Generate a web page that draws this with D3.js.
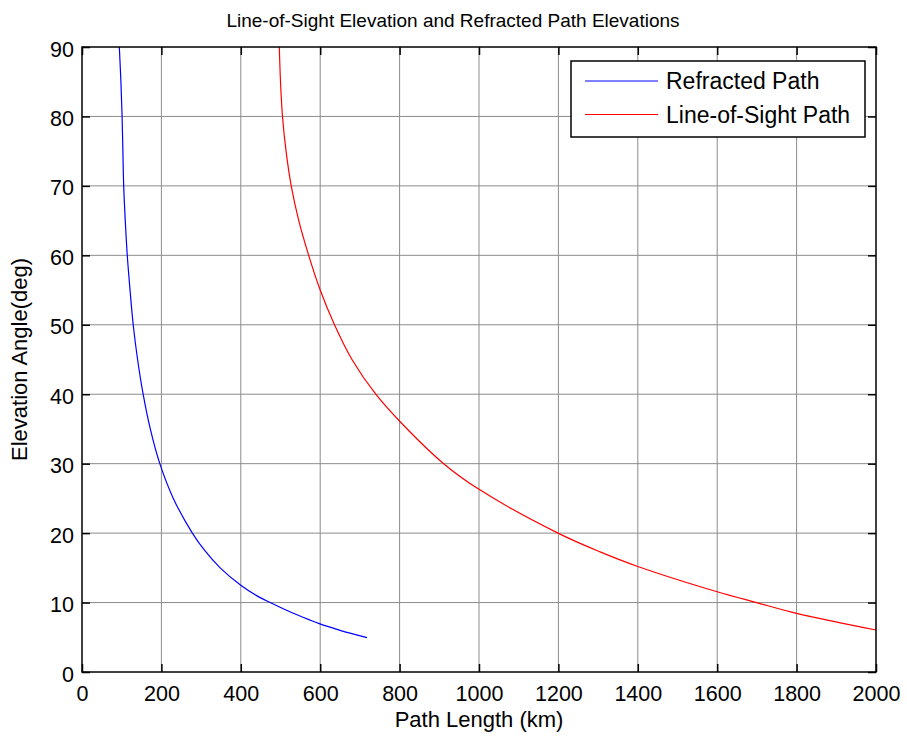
<!DOCTYPE html>
<html>
<head>
<meta charset="utf-8">
<script src="https://cdn.jsdelivr.net/npm/d3@7"></script>
<style>
  body { margin: 0; background: #fff; }
  svg text { font-family: "Liberation Sans", Arial, sans-serif; fill: #000; }
</style>
</head>
<body>
<svg id="chart" width="907" height="740"></svg>
<script>
// *********** DATA ***************** //
var refractedElev = [90, 85, 80, 75, 70, 65, 60, 55, 50, 45, 40, 35, 30, 25, 20, 17.5, 15, 12.5, 11, 10, 9, 8, 7, 6, 4.94];
var refractedKm   = [94, 98, 101, 103, 105, 109, 114, 121, 129, 140, 154, 172, 196, 230, 278, 309, 348, 400, 440, 474, 511, 552, 596, 650, 718];

var losElev = [90, 85, 80, 75, 70, 65, 60, 55, 50, 45, 40, 36, 30, 26.3, 20, 17.3, 15.2, 11.56, 10, 8.45, 6.05];
var losKm   = [497, 500, 505, 514, 527, 546, 571, 600, 636, 680, 740, 802, 911, 1000, 1199, 1305, 1400, 1600, 1699, 1800, 2000];

var xTicks = [0, 200, 400, 600, 800, 1000, 1200, 1400, 1600, 1800, 2000];
var yTicks = [0, 10, 20, 30, 40, 50, 60, 70, 80, 90];
var seriesNames = ["Refracted Path", "Line-of-Sight Path"];
var seriesColors = ["#0000ff", "#ff0000"];

// *********** LAYOUT ***************** //
var plotLeft = 82, plotRight = 876, plotTop = 47, plotBottom = 672;
var svg = d3.select("#chart");

var x = d3.scaleLinear().domain([0, 2000]).range([plotLeft, plotRight]);
var y = d3.scaleLinear().domain([0, 90]).range([plotBottom, plotTop]);

// grid
var grid = svg.append("g").attr("class", "grid");
grid.selectAll(".vgrid").data(xTicks.slice(1, -1)).enter().append("line")
  .attr("x1", d => x(d)).attr("x2", d => x(d))
  .attr("y1", plotTop).attr("y2", plotBottom)
  .attr("stroke", "#8c8c8c").attr("stroke-width", 1);
grid.selectAll(".hgrid").data(yTicks.slice(1, -1)).enter().append("line")
  .attr("x1", plotLeft).attr("x2", plotRight)
  .attr("y1", d => y(d)).attr("y2", d => y(d))
  .attr("stroke", "#8c8c8c").attr("stroke-width", 1);

// *********** LINES ***************** //
var line = d3.line()
  .x(d => x(d[0]))
  .y(d => y(d[1]))
  .curve(d3.curveCatmullRom.alpha(0.5));

svg.append("path")
  .datum(d3.zip(refractedKm, refractedElev))
  .attr("fill", "none")
  .attr("stroke", seriesColors[0])
  .attr("stroke-width", 1.2)
  .attr("d", line);

svg.append("path")
  .datum(d3.zip(losKm, losElev))
  .attr("fill", "none")
  .attr("stroke", seriesColors[1])
  .attr("stroke-width", 1.2)
  .attr("d", line);

// *********** AXES ***************** //
function styleAxis(g) {
  g.select(".domain").remove();
  g.selectAll(".tick line").attr("stroke", "#000").attr("stroke-width", 1.5);
  g.selectAll("text").style("font-size", "21.5px");
}

svg.append("g")
  .attr("transform", "translate(0," + plotBottom + ")")
  .call(d3.axisBottom(x).tickValues(xTicks).tickSize(-8).tickPadding(14).tickFormat(d3.format("d")))
  .call(styleAxis);

svg.append("g")
  .attr("transform", "translate(0," + plotTop + ")")
  .call(d3.axisTop(x).tickValues(xTicks).tickSize(-8).tickFormat(""))
  .call(styleAxis);

svg.append("g")
  .attr("transform", "translate(" + plotLeft + ",0)")
  .call(d3.axisLeft(y).tickValues(yTicks).tickSize(-8).tickPadding(8).tickFormat(d3.format("d")))
  .call(styleAxis)
  .selectAll("text").attr("dy", "0.42em");

svg.append("g")
  .attr("transform", "translate(" + plotRight + ",0)")
  .call(d3.axisRight(y).tickValues(yTicks).tickSize(-8).tickFormat(""))
  .call(styleAxis);

// box
svg.append("rect")
  .attr("x", plotLeft).attr("y", plotTop)
  .attr("width", plotRight - plotLeft).attr("height", plotBottom - plotTop)
  .attr("fill", "none").attr("stroke", "#000").attr("stroke-width", 1.5);

// *********** TEXT ***************** //
svg.append("text")
  .attr("x", 453)
  .attr("y", 27)
  .attr("text-anchor", "middle")
  .style("font-size", "19px")
  .text("Line-of-Sight Elevation and Refracted Path Elevations");

svg.append("text")
  .attr("x", (plotLeft + plotRight) / 2)
  .attr("y", 727)
  .attr("text-anchor", "middle")
  .style("font-size", "22px")
  .text("Path Length (km)");

svg.append("text")
  .attr("transform", "translate(27," + ((plotTop + plotBottom) / 2) + ") rotate(-90)")
  .attr("text-anchor", "middle")
  .style("font-size", "22px")
  .text("Elevation Angle(deg)");

// *********** LEGEND ***************** //
var legend = svg.append("g").attr("class", "legend");
legend.append("rect")
  .attr("x", 571).attr("y", 61)
  .attr("width", 294).attr("height", 76)
  .attr("fill", "#fff").attr("stroke", "#000").attr("stroke-width", 1.5);

var items = legend.selectAll(".item").data(seriesNames).enter().append("g")
  .attr("transform", (d, i) => "translate(0," + (81 + i * 33.5) + ")");
items.append("line")
  .attr("x1", 585).attr("x2", 658)
  .attr("stroke", (d, i) => seriesColors[i]).attr("stroke-width", 1.2);
items.append("text")
  .attr("x", 666).attr("dy", "0.36em")
  .style("font-size", "23px")
  .text(d => d);
</script>
</body>
</html>
